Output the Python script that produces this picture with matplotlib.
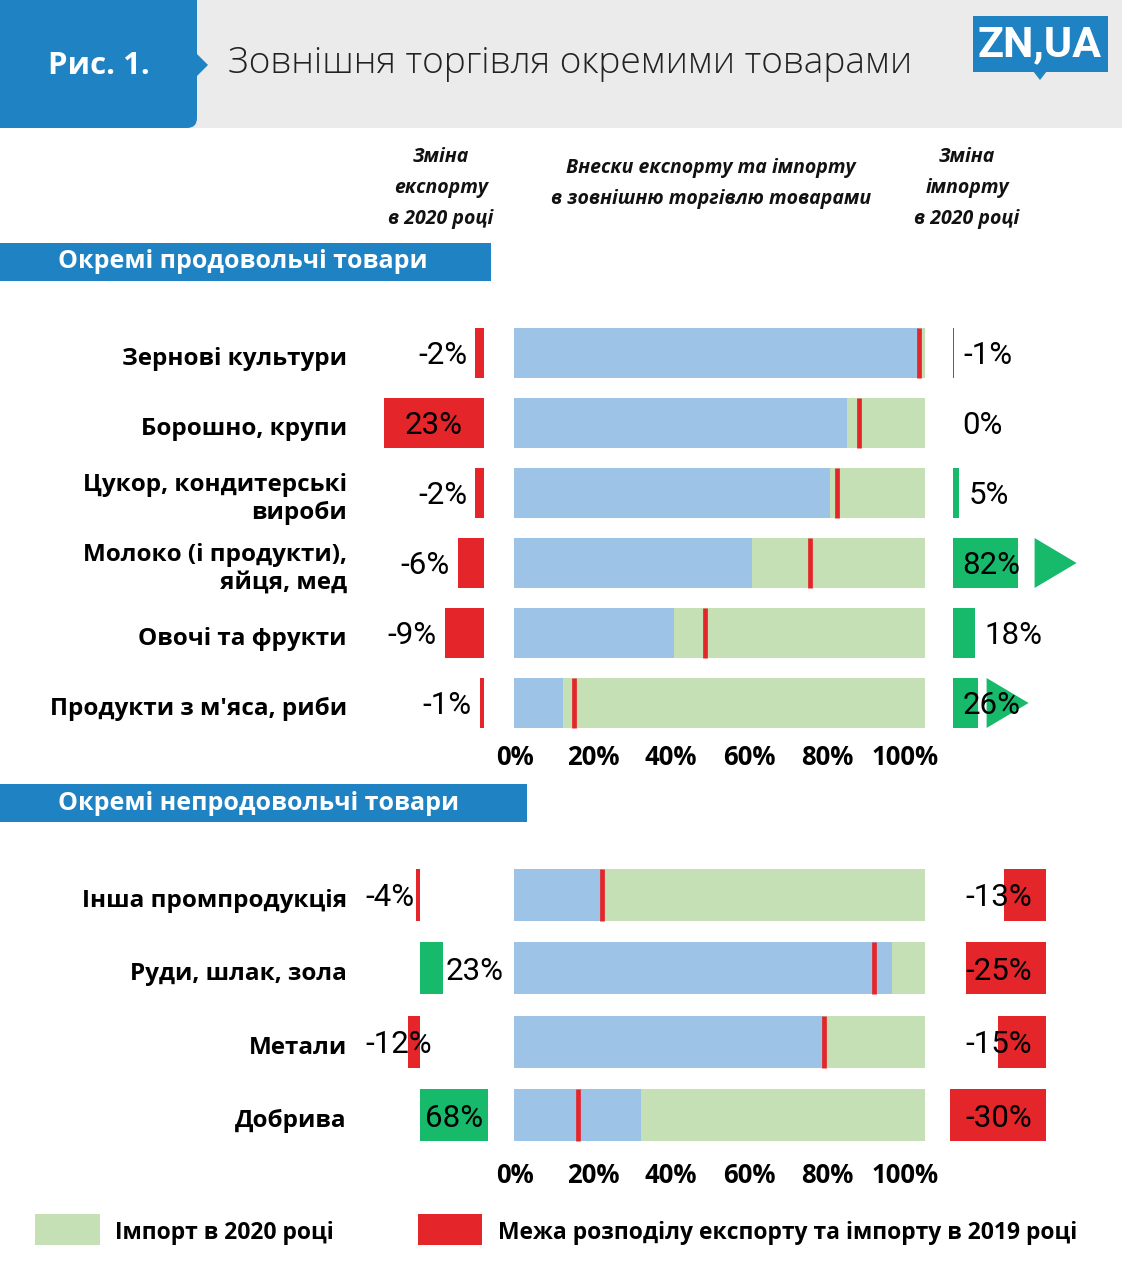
import matplotlib
matplotlib.use("Agg")
import matplotlib.pyplot as plt
from matplotlib.patches import Rectangle, FancyBboxPatch, Polygon

W, H = 1122, 1280
DPI = 100

# ---------------- data ----------------
food_categories = ["Зернові культури", "Борошно, крупи", "Цукор, кондитерські\nвироби",
                   "Молоко (і продукти),\nяйця, мед", "Овочі та фрукти", "Продукти з м′яса, риби"]
food_export_share_2020 = [98.5, 81, 77, 58, 39, 12]      # % of trade (blue)
food_border_2019 = [98.5, 84, 78.5, 72, 46.5, 14.5]       # red line
food_export_change = [-2, 23, -2, -6, -9, -1]
food_export_colors = ["red", "red", "red", "red", "red", "red"]
food_import_change = [-1, 0, 5, 82, 18, 26]
food_import_clip = [None, None, None, 54, None, 21]       # shown length for truncated bars

nonfood_categories = ["Інша промпродукція", "Руди, шлак, зола", "Метали", "Добрива"]
nonfood_export_share_2020 = [21.5, 92, 75.5, 31]
nonfood_border_2019 = [21.5, 87.5, 75.5, 15.5]
nonfood_export_change = [-4, 23, -12, 68]
nonfood_import_change = [-13, -25, -15, -30]

tick_values = [0, 20, 40, 60, 80, 100]
tick_labels = ["0%", "20%", "40%", "60%", "80%", "100%"]

# ---------------- style ----------------
BLUE_BAR = "#9dc3e6"
GREEN_BAR = "#c5e0b4"
RED = "#e4262b"
GREEN = "#17b96b"
HEAD_BLUE = "#1f82c2"
GRAY_BG = "#ebebeb"
COL = {"red": RED, "green": GREEN}

FONT = ["Open Sans", "DejaVu Sans"]
NUMFONT = ["Roboto", "DejaVu Sans"]
NUMSIZE = 22.5

fig = plt.figure(figsize=(W / DPI, H / DPI), dpi=DPI)
fig.patch.set_facecolor("white")

def px_axes(x0, y0, x1, y1):
    return fig.add_axes([x0 / W, 1 - y1 / H, (x1 - x0) / W, (y1 - y0) / H])

bg = px_axes(0, 0, W, H)
bg.set_xlim(0, W)
bg.set_ylim(H, 0)
bg.axis("off")

# header band
bg.add_patch(Rectangle((0, 0), W, 128, color=GRAY_BG, lw=0))
bg.add_patch(FancyBboxPatch((-20, -20), 217, 148, boxstyle="round,pad=0,rounding_size=10",
                            color=HEAD_BLUE, lw=0))
bg.add_patch(Polygon([(196, 53), (208, 65), (196, 77)], closed=True, color=HEAD_BLUE, lw=0))
bg.text(99, 66, "Рис. 1.", color="white", fontsize=22.5, fontweight="bold", family=FONT,
        ha="center", va="center")
bg.text(228, 64, "Зовнішня торгівля окремими товарами", color="#222222", fontsize=26.7,
        fontweight="light", family=FONT, ha="left", va="center")
# logo
bg.add_patch(Rectangle((973, 16), 135, 56, color=HEAD_BLUE, lw=0))
bg.add_patch(Polygon([(1033, 71), (1047, 71), (1040, 80)], closed=True, color=HEAD_BLUE, lw=0))
bg.text(1040, 45, "ZN,UA", color="white", fontsize=31, fontweight="bold",
        family=["Liberation Sans Narrow", "Roboto", "DejaVu Sans"], ha="center", va="center")

# column headers
HDR = dict(fontsize=14, fontweight="bold", style="italic", family=FONT,
           ha="center", va="center", color="#111111")
for y, t in zip([157, 188, 219], ["Зміна", "експорту", "в 2020 році"]):
    bg.text(441, y, t, **HDR)
for y, t in zip([168, 199], ["Внески експорту та імпорту", "в зовнішню торгівлю товарами"]):
    bg.text(711, y, t, **HDR)
for y, t in zip([157, 188, 219], ["Зміна", "імпорту", "в 2020 році"]):
    bg.text(967, y, t, **HDR)

# section bands
bg.add_patch(Rectangle((0, 243), 491, 38, color=HEAD_BLUE, lw=0))
bg.text(58, 262, "Окремі продовольчі товари", color="white", fontsize=18, fontweight="bold",
        family=FONT, ha="left", va="center")
bg.add_patch(Rectangle((0, 784), 527, 38, color=HEAD_BLUE, lw=0))
bg.text(58, 803, "Окремі непродовольчі товари", color="white", fontsize=18, fontweight="bold",
        family=FONT, ha="left", va="center")

# legend
bg.add_patch(Rectangle((35, 1214), 65, 31, color=GREEN_BAR, lw=0))
bg.text(115, 1230, "Імпорт в 2020 році", fontsize=16.5, fontweight="bold", family=FONT,
        ha="left", va="center_baseline")
bg.add_patch(Rectangle((418, 1214), 64, 31, color=RED, lw=0))
bg.text(498, 1230, "Межа розподілу експорту та імпорту в 2019 році", fontsize=16.5,
        fontweight="bold", family=FONT, ha="left", va="center_baseline")


def clean(ax):
    for s in ax.spines.values():
        s.set_visible(False)
    ax.set_xticks([])
    ax.set_yticks([])
    ax.patch.set_alpha(0)


def share_panel(y0, y1, share, border, bh, pad):
    n = len(share)
    ax = px_axes(514, y0, 925, y1)
    clean(ax)
    ax.set_xlim(0, 100)
    ax.set_ylim(n - 0.5, -0.5)
    rows = list(range(n))
    imp = [100 - s for s in share]
    ax.barh(rows, share, height=bh, color=BLUE_BAR, lw=0)
    ax.barh(rows, imp, left=share, height=bh, color=GREEN_BAR, lw=0)
    ax.vlines(border, [r - bh / 2 for r in rows], [r + bh / 2 for r in rows],
              color=RED, lw=3.4)
    # percentage scale underneath (spaced as in the original layout)
    axt = px_axes(514, y0, 925, y1)
    clean(axt)
    axt.set_xlim(-0.25, 105.1)
    axt.set_xticks(tick_values)
    axt.set_xticklabels(tick_labels, fontsize=18.5, fontweight="bold", family=FONT)
    axt.tick_params(axis="x", length=0, pad=pad)
    return ax

BH = 0.714

# ---------- food section ----------
share_panel(318, 738, food_export_share_2020, food_border_2019, BH, pad=4.5)
for r, c in enumerate(food_categories):
    if "\n" in c:
        bg.text(347, 359 + 70 * r, c, fontsize=17.5, fontweight="bold", family=FONT,
                ha="right", va="center", multialignment="right", linespacing=1.22)
    else:
        bg.text(347, 356 + 70 * r, c, fontsize=17.5, fontweight="bold", family=FONT,
                ha="right", va="center_baseline")

# export change (food): bars grow leftward from x=484
axe = px_axes(375, 318, 484, 738)
clean(axe)
axe.set_xlim(25, 0)
axe.set_ylim(5.5, -0.5)
for r, (v, c) in enumerate(zip(food_export_change, food_export_colors)):
    axe.barh(r, abs(v), height=BH, color=COL[c], lw=0)
    if abs(v) > 15:
        axe.text(abs(v) / 2, r, f"{v}%", ha="center", va="center_baseline", fontsize=NUMSIZE,
                 family=NUMFONT, clip_on=False)
    else:
        axe.text(abs(v) + 1.8, r, f"{v}%", ha="right", va="center_baseline", fontsize=NUMSIZE,
                 family=NUMFONT, clip_on=False)

# import change (food): bars grow rightward from x=953
axi = px_axes(953, 318, 1100, 738)
clean(axi)
axi.set_xlim(0, 147 / 1.2)
axi.set_ylim(5.5, -0.5)
for r, (v, clip) in enumerate(zip(food_import_change, food_import_clip)):
    col = RED if v < 0 else GREEN
    shown = abs(v) if clip is None else clip
    if v != 0:
        axi.barh(r, shown, height=BH, color=col, lw=0)
    if clip is not None:
        x0 = clip + (14 if clip > 40 else 7)
        axi.add_patch(Polygon([(x0, r - BH / 2), (x0 + 35, r), (x0, r + BH / 2)],
                              closed=True, color=GREEN, lw=0, clip_on=False))
        lx = 8.0
    else:
        lx = abs(v) + 8.0
    axi.text(lx, r, f"{v}%", ha="left", va="center_baseline", fontsize=NUMSIZE,
             family=NUMFONT, clip_on=False)

# ---------- non-food section ----------
BH2 = 0.71
share_panel(858, 1152, nonfood_export_share_2020, nonfood_border_2019, BH2, pad=7.5)
for r, c in enumerate(nonfood_categories):
    bg.text(347, 898 + 73.3 * r, c, fontsize=17.5, fontweight="bold", family=FONT,
            ha="right", va="center_baseline")

axe2 = px_axes(360, 858, 500, 1152)
clean(axe2)
axe2.set_xlim(-60, 80)
axe2.set_ylim(3.5, -0.5)
for r, v in enumerate(nonfood_export_change):
    col = RED if v < 0 else GREEN
    axe2.barh(r, v, height=BH2, color=col, lw=0)
    if v < 0:
        axe2.text(-55, r, f"{v}%", ha="left", va="center_baseline", fontsize=NUMSIZE,
                  family=NUMFONT)
    elif v > 40:
        axe2.text(v / 2, r, f"{v}%", ha="center", va="center_baseline", fontsize=NUMSIZE,
                  family=NUMFONT)
    else:
        axe2.text(v + 3, r, f"{v}%", ha="left", va="center_baseline", fontsize=NUMSIZE,
                  family=NUMFONT)

axi2 = px_axes(940, 858, 1046, 1152)
clean(axi2)
axi2.set_xlim(-106 / 3.2, 0)
axi2.set_ylim(3.5, -0.5)
for r, v in enumerate(nonfood_import_change):
    col = RED if v < 0 else GREEN
    axi2.barh(r, v, height=BH2, color=col, lw=0)
    axi2.text(-25.3, r, f"{v}%", ha="left", va="center_baseline", fontsize=NUMSIZE,
              family=NUMFONT)

fig.savefig("out.png", dpi=DPI)
